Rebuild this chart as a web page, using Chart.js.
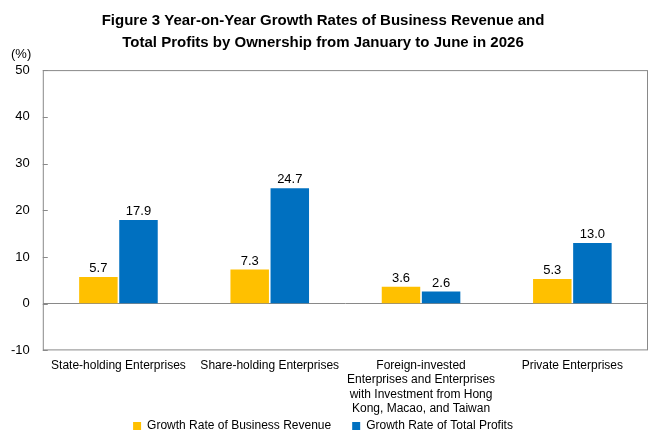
<!DOCTYPE html>
<html>
<head>
<meta charset="utf-8">
<script src="https://cdn.jsdelivr.net/npm/chart.js@4"></script>
<style>
  body { margin: 0; background: #fff; }
  #wrap { width: 660px; height: 440px; }
</style>
</head>
<body>
<div id="wrap"><canvas id="barChart" width="660" height="440"></canvas></div>
<script>
// chart values
const categories = [
  'State-holding Enterprises',
  'Share-holding Enterprises',
  ['Foreign-invested', 'Enterprises and Enterprises', 'with Investment from Hong', 'Kong, Macao, and Taiwan'],
  'Private Enterprises'
];
const revenueGrowth = [5.7, 7.3, 3.6, 5.3];
const profitGrowth = [17.9, 24.7, 2.6, 13.0];
const yTicks = [-10, 0, 10, 20, 30, 40, 50];

const FONT = 'Arial, "Liberation Sans", sans-serif';
const X_SHRINK = 25;

// box around plot area, inward tick marks, "(%)" unit and value labels
const decorations = {
  id: 'decorations',
  afterLayout(chart) {
    // x labels overlap the legend's empty top padding; widen their clip box back
    chart.scales.x.bottom += X_SHRINK;
  },
  afterDraw(chart) {
    const { ctx, chartArea: a, scales } = chart;
    ctx.save();
    ctx.strokeStyle = '#898989';
    ctx.lineWidth = 1;
    ctx.strokeRect(a.left + 0.5, a.top + 0.5, a.right - a.left - 1, a.bottom - a.top - 1);
    yTicks.forEach(v => {
      const y = Math.round(scales.y.getPixelForValue(v)) + 0.5;
      ctx.beginPath();
      ctx.moveTo(a.left, y);
      ctx.lineTo(a.left + 5, y);
      ctx.stroke();
    });
    ctx.fillStyle = '#000';
    ctx.font = '13px ' + FONT;
    ctx.textAlign = 'left';
    ctx.textBaseline = 'middle';
    ctx.fillText('(%)', 11, a.top - 16);

    ctx.textAlign = 'center';
    ctx.textBaseline = 'bottom';
    chart.data.datasets.forEach((ds, i) => {
      chart.getDatasetMeta(i).data.forEach((bar, j) => {
        ctx.fillText(ds.data[j].toFixed(1), bar.x, bar.y - 2);
      });
    });
    ctx.restore();
  }
};

document.addEventListener('DOMContentLoaded', () => {
  const barData = {
    labels: categories,
    datasets: [{
      label: 'Growth Rate of Business Revenue',
      data: revenueGrowth,
      backgroundColor: '#FFC000'
    }, {
      label: 'Growth Rate of Total Profits',
      data: profitGrowth,
      backgroundColor: '#0070C0'
    }]
  };

  const barConfig = {
    type: 'bar',
    data: barData,
    options: {
      responsive: false,
      devicePixelRatio: 1,
      animation: false,
      datasets: {
        bar: { categoryPercentage: 0.53, barPercentage: 0.96 }
      },
      layout: { padding: { left: -2, right: 12, top: 0, bottom: -2 } },
      scales: {
        y: {
          min: -10,
          max: 50,
          afterBuildTicks: axis => { axis.ticks = yTicks.map(v => ({ value: v })); },
          border: { display: false },
          grid: {
            drawTicks: false,
            color: c => (c.tick && c.tick.value === 0 ? '#898989' : 'rgba(0,0,0,0)')
          },
          ticks: { color: '#000', padding: 13, font: { family: FONT, size: 13 } }
        },
        x: {
          border: { display: false },
          grid: { display: false, drawTicks: false },
          afterFit: axis => { axis.height -= X_SHRINK; },
          ticks: { color: '#000', padding: 8, maxRotation: 0, autoSkip: false, font: { family: FONT, size: 12 } }
        }
      },
      plugins: {
        title: {
          display: true,
          text: ['Figure 3 Year-on-Year Growth Rates of Business Revenue and', 'Total Profits by Ownership from January to June in 2026'],
          color: '#000',
          font: { family: FONT, size: 15, weight: 'bold', lineHeight: 1.47 },
          padding: { top: 10, bottom: 16 }
        },
        legend: {
          position: 'bottom',
          labels: { color: '#000', boxWidth: 8, boxHeight: 8, padding: 21, font: { family: FONT, size: 12 } }
        },
        tooltip: { enabled: false }
      }
    },
    plugins: [decorations]
  };

  new Chart(document.getElementById('barChart').getContext('2d'), barConfig);
});
</script>
</body>
</html>
